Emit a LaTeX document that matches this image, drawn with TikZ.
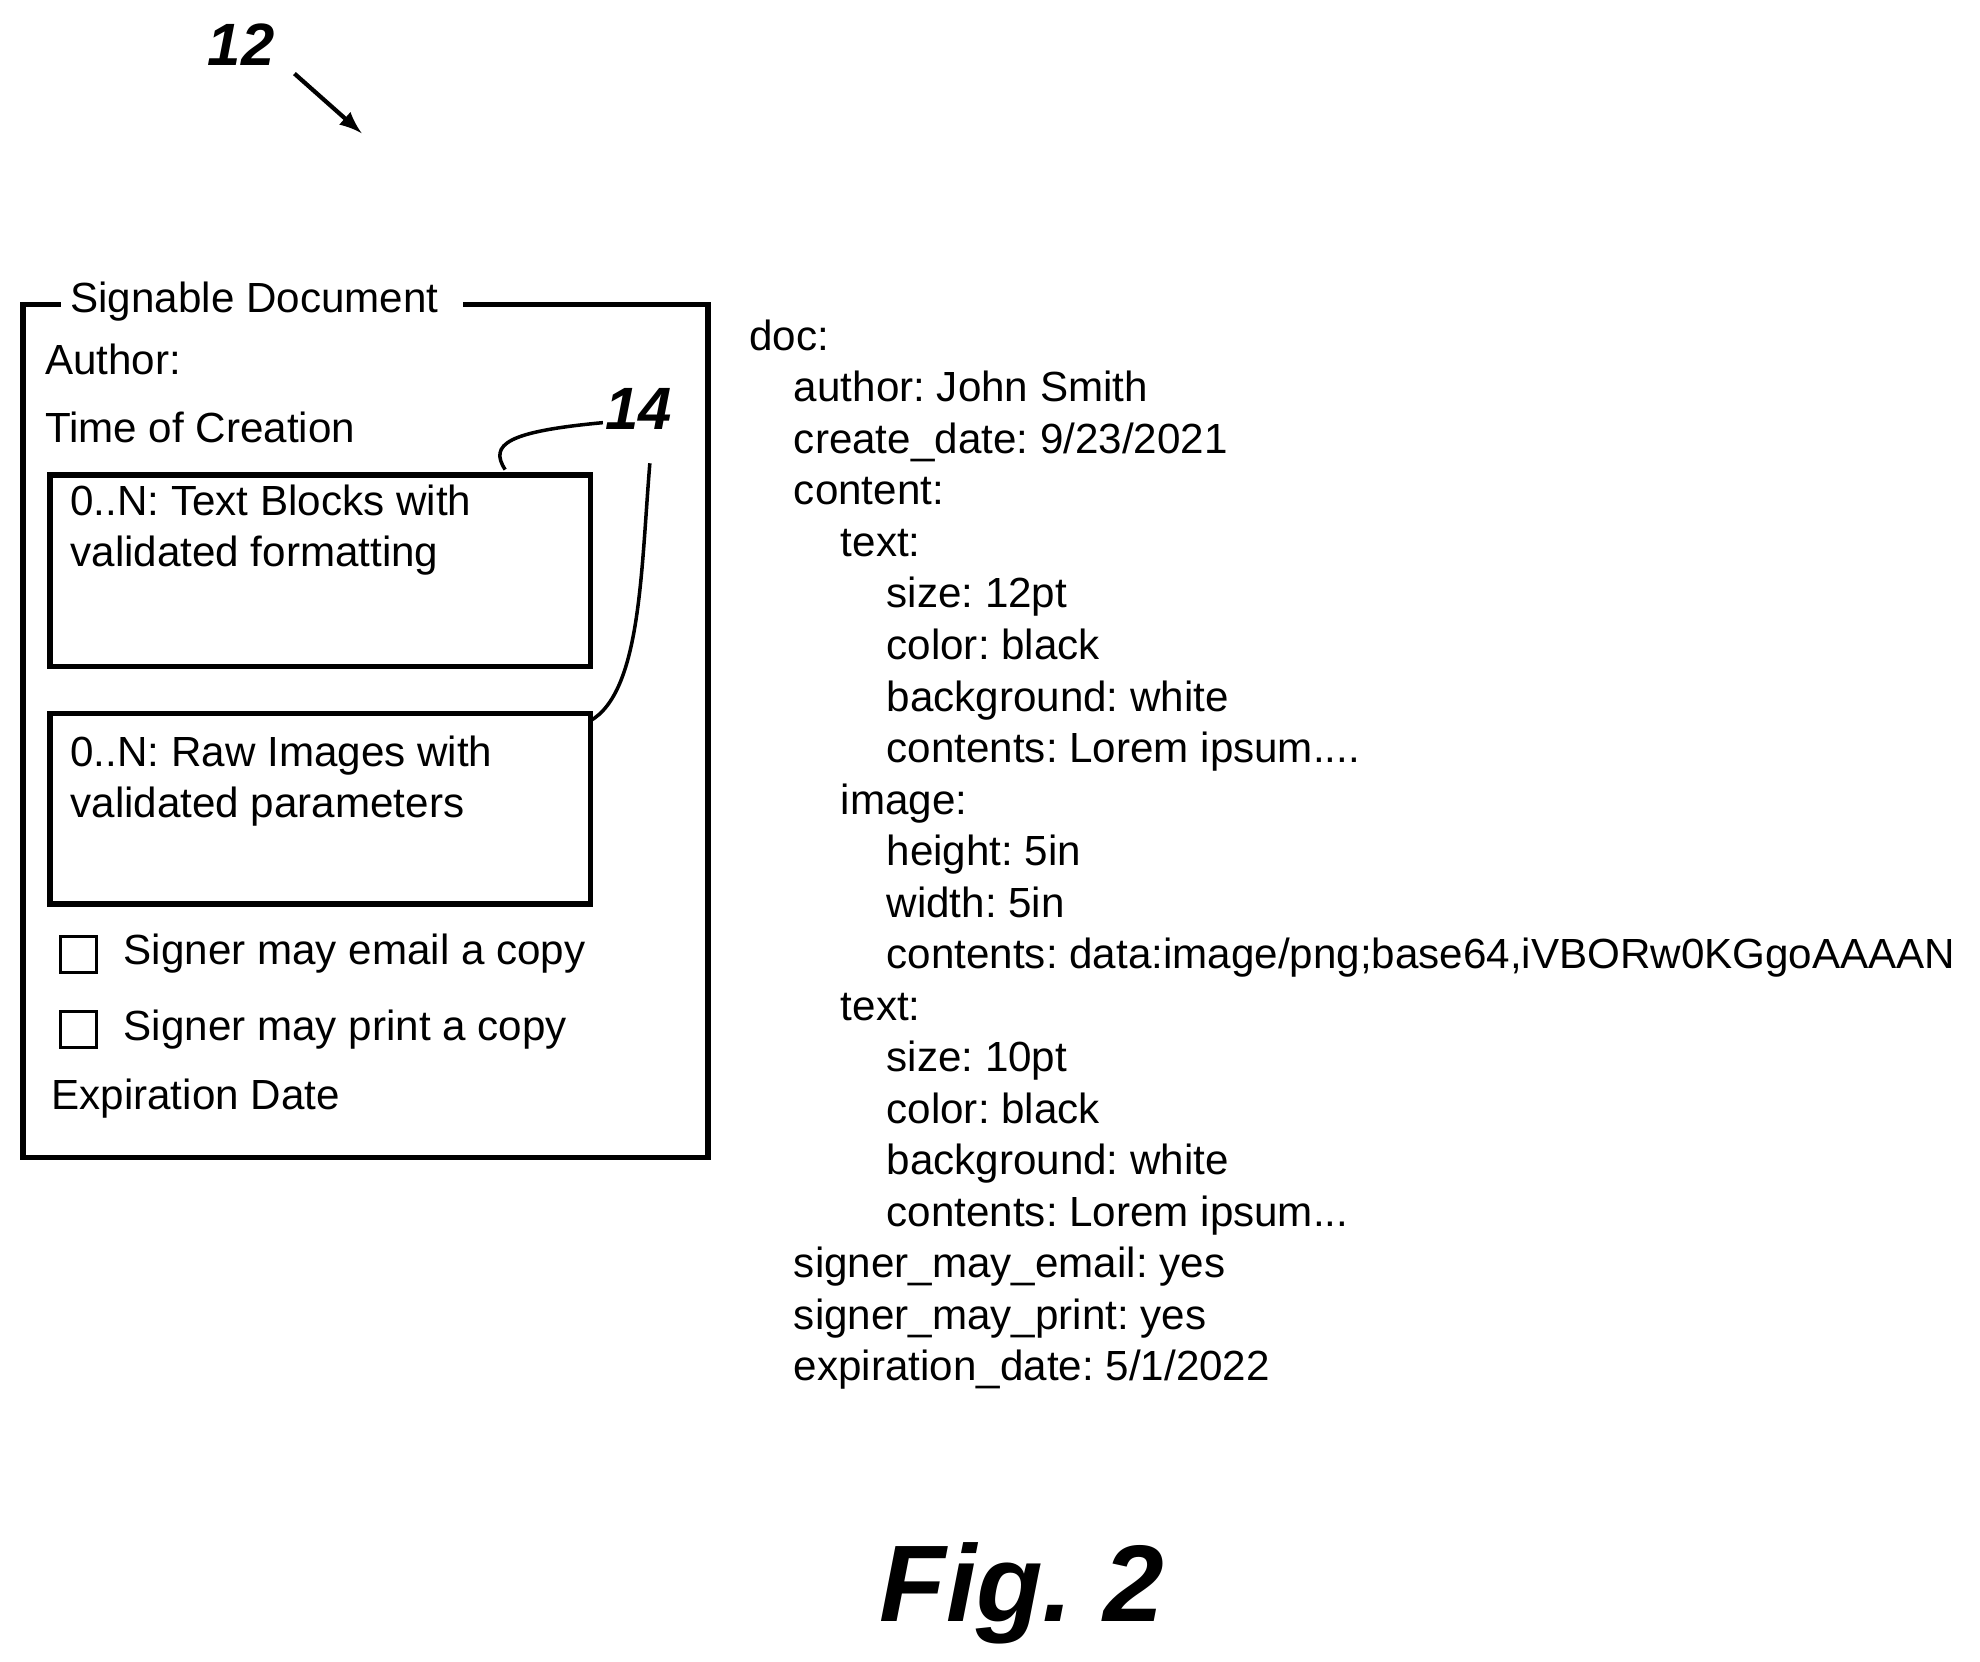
\documentclass[tikz,border=0pt]{standalone}
\usepackage{fontspec}
\setmainfont{Liberation Sans}
\newcommand\myfour{.\kern0pt.\kern0pt.\kern0pt.}
\newcommand\mythree{.\kern0pt.\kern0pt.}
\frenchspacing
\begin{document}
\begin{tikzpicture}[x=0.01269cm,y=-0.01269cm,
  t/.style={anchor=base west,inner sep=0pt,font=\fontsize{12}{14}\selectfont},
  num/.style={inner sep=0pt,font=\fontsize{17}{20}\selectfont\bfseries\itshape},
  box/.style={draw,line width=1.6pt},
  cb/.style={draw,line width=0.8pt,minimum size=0.36cm,inner sep=0pt}]
\useasboundingbox (0,0) rectangle (1560,1309);
\node[num] (n12) at (190,35) {12};
\coordinate (a1) at (232,58); \coordinate (a2) at (285,105);
\draw[-latex,line width=1.2pt] (a1) -- (a2);
% outer box
\draw[box] (48,240) -- (18,240) -- (18,912) -- (558,912) -- (558,240) -- (365,240);
\node[t] (title) at (55,246) {Signable Document};
\node[t] (author) at (35,295) {Author:};
\node[t] (toc) at (35,349) {Time of Creation};
\node[box,minimum width=426*0.01269cm,minimum height=151*0.01269cm,anchor=north west] (b1) at (37,372) {};
\node[t] (b1a) at (55,406) {0..N: Text Blocks with};
\node[t] (b1b) at (55,446) {validated formatting};
\node[box,minimum width=426*0.01269cm,minimum height=150*0.01269cm,anchor=north west] (b2) at (37,560) {};
\node[t] (b2a) at (55,604) {0..N: Raw Images with};
\node[t] (b2b) at (55,644) {validated parameters};
\node[cb] (c1) at (62,752) {};
\node[t] (c1t) at (97,760) {Signer may email a copy};
\node[cb] (c2) at (62,811) {};
\node[t] (c2t) at (97,820) {Signer may print a copy};
\node[t] (exp) at (40,874) {Expiration Date};
\node[num] (n14) at (503,322) {14};
\coordinate (l1) at (398,370);
\coordinate (l2) at (475,333);
\coordinate (m1) at (465,568);
\coordinate (m2) at (512,365);
\draw[line width=1pt] (l1) .. controls (385,350) and (400,340) .. (l2);
\draw[line width=1pt] (m1) .. controls (505,545) and (505,450) .. (m2);
% right text
\foreach \txt/\x [count=\i from 0] in {
 doc:/590, author: John Smith/625, {create\_date: 9/23/2021}/625, content:/625,
 text:/662, size: 12pt/698, color: black/698, background: white/698, contents: Lorem ipsum\myfour/698,
 image:/662, height: 5in/698, width: 5in/698, {contents: data:image/png;base64,iVBORw0KGgoAAAAN}/698,
 text:/662, size: 10pt/698, color: black/698, background: white/698, contents: Lorem ipsum\mythree/698,
 signer\_may\_email: yes/625, signer\_may\_print: yes/625, {expiration\_date: 5/1/2022}/625}
 \node[t] (r\i) at (\x,{276+40.6*\i}) {\txt};
\node[inner sep=0pt,font=\fontsize{31}{36}\selectfont\bfseries\itshape] (fig) at (805,1255) {Fig. 2};
\end{tikzpicture}
\end{document}
